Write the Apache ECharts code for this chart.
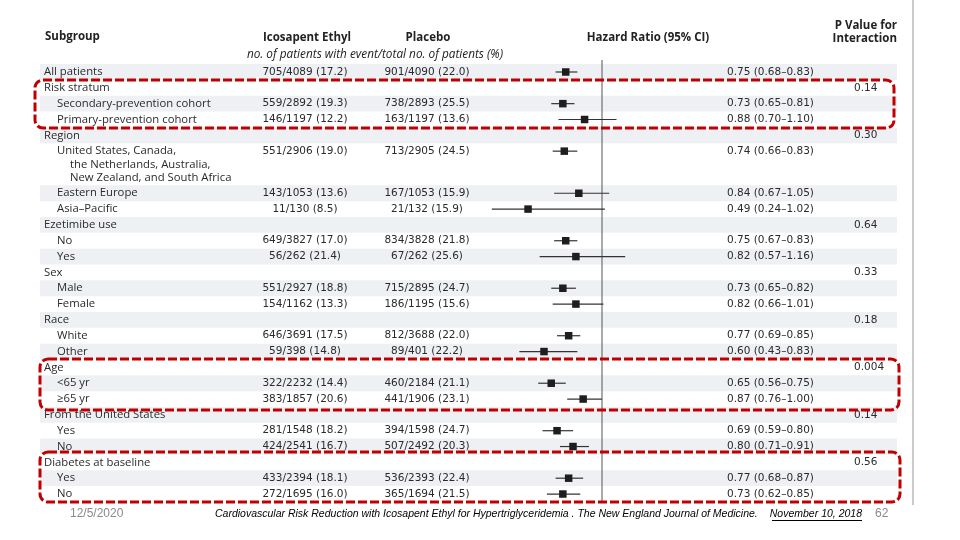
<!DOCTYPE html>
<html>
<head>
<meta charset="utf-8">
<script src="https://cdn.jsdelivr.net/npm/echarts@6/dist/echarts.min.js"></script>
<style>html,body{margin:0;padding:0;background:#fff}#c{width:960px;height:540px}</style>
</head>
<body>
<div id="c"></div>
<script>
// ---------- DATA ----------
const subgroups = ['All patients','Risk stratum','Secondary-prevention cohort','Primary-prevention cohort',
  'Region','United States, Canada,\nthe Netherlands, Australia,\nNew Zealand, and South Africa','Eastern Europe','Asia\u2013Pacific',
  'Ezetimibe use','No','Yes','Sex','Male','Female','Race','White','Other',
  'Age','<65 yr','\u226565 yr','From the United States','Yes','No','Diabetes at baseline','Yes','No'];
const levels = [0,0,1,1, 0,1,1,1, 0,1,1, 0,1,1, 0,1,1, 0,1,1, 0,1,1, 0,1,1];
const icosapent = ['705/4089 (17.2)','','559/2892 (19.3)','146/1197 (12.2)',
  '','551/2906 (19.0)','143/1053 (13.6)','11/130 (8.5)',
  '','649/3827 (17.0)','56/262 (21.4)','','551/2927 (18.8)','154/1162 (13.3)','','646/3691 (17.5)','59/398 (14.8)',
  '','322/2232 (14.4)','383/1857 (20.6)','','281/1548 (18.2)','424/2541 (16.7)','','433/2394 (18.1)','272/1695 (16.0)'];
const placebo = ['901/4090 (22.0)','','738/2893 (25.5)','163/1197 (13.6)',
  '','713/2905 (24.5)','167/1053 (15.9)','21/132 (15.9)',
  '','834/3828 (21.8)','67/262 (25.6)','','715/2895 (24.7)','186/1195 (15.6)','','812/3688 (22.0)','89/401 (22.2)',
  '','460/2184 (21.1)','441/1906 (23.1)','','394/1598 (24.7)','507/2492 (20.3)','','536/2393 (22.4)','365/1694 (21.5)'];
const hazardRatio = [0.75,null,0.73,0.88, null,0.74,0.84,0.49, null,0.75,0.82, null,0.73,0.82, null,0.77,0.60,
  null,0.65,0.87, null,0.69,0.80, null,0.77,0.73];
const ciLow = [0.68,null,0.65,0.70, null,0.66,0.67,0.24, null,0.67,0.57, null,0.65,0.66, null,0.69,0.43,
  null,0.56,0.76, null,0.59,0.71, null,0.68,0.62];
const ciHigh = [0.83,null,0.81,1.10, null,0.83,1.05,1.02, null,0.83,1.16, null,0.82,1.01, null,0.85,0.83,
  null,0.75,1.00, null,0.80,0.91, null,0.87,0.85];
const pInteraction = ['','0.14','','', '0.30','','','', '0.64','','', '0.33','','', '0.18','','',
  '0.004','','', '0.14','','', '0.56','',''];

// ---------- LAYOUT ----------
const ROW_PX = 15.83, Y0 = 72, WRAP = 0.83;
const rowPos = [];
{ let p = 0; subgroups.forEach((s,i)=>{ rowPos.push(p); p += 1 + (s.split('\n').length-1)*WRAP; }); }
const yMin = -Y0/ROW_PX, yMax = (540-Y0)/ROW_PX;
const FONT = '"Open Sans", sans-serif';
const NUMFONT = '10.5px "DejaVu Sans", sans-serif';
const LABFONT = '11.3px "Open Sans", sans-serif';
const TXT = '#2a2a2a';

const chart = echarts.init(document.getElementById('c'), null, {renderer:'canvas'});

const bandData = rowPos.map((p,i)=>[i,p]).filter(d=>d[0]%2===0);
const tableData = rowPos.map((p,i)=>[i,p]);
const forestData = [];
hazardRatio.forEach((h,i)=>{ if(h!=null) forestData.push([h, ciLow[i], ciHigh[i], rowPos[i]]); });

function fmt(v){ return v.toFixed(2); }

const option = {
  animation:false,
  grid:[
    {left:0,right:0,top:0,bottom:0},
    {left:486,width:174,top:0,bottom:0}
  ],
  xAxis:[
    {type:'value',gridIndex:0,min:0,max:960,show:false},
    {type:'value',gridIndex:1,min:0.2,max:1.4,show:false}
  ],
  yAxis:[
    {type:'value',gridIndex:0,min:yMin,max:yMax,inverse:true,show:false},
    {type:'value',gridIndex:1,min:yMin,max:yMax,inverse:true,show:false}
  ],
  series:[
    { // alternating bands
      type:'custom', xAxisIndex:0, yAxisIndex:0, data:bandData, silent:true, z:1,
      renderItem:(params, api)=>{
        const p = api.value(1);
        const a = api.coord([40, p-0.5]), b = api.coord([897, p+0.5]);
        return {type:'rect', shape:{x:a[0],y:a[1],width:b[0]-a[0],height:b[1]-a[1]}, style:{fill:'#eef0f3'}};
      }
    },
    { // table text
      type:'custom', xAxisIndex:0, yAxisIndex:0, data:tableData, silent:true, z:3,
      renderItem:(params, api)=>{
        const i = api.value(0), p = api.value(1);
        const c = api.coord([0,p]); const y = c[1];
        const children = [];
        const lines = subgroups[i].split('\n');
        const baseX = levels[i]===0 ? 44 : 57;
        lines.forEach((ln,k)=>{
          children.push({type:'text', style:{text:ln, x: baseX + (k>0?13:0), y: y + k*WRAP*ROW_PX,
            textVerticalAlign:'middle', font:LABFONT, fill:TXT}});
        });
        if(icosapent[i]) children.push({type:'text', style:{text:icosapent[i], x:305, y:y, textAlign:'center', textVerticalAlign:'middle', font:NUMFONT, fill:TXT}});
        if(placebo[i]) children.push({type:'text', style:{text:placebo[i], x:427, y:y, textAlign:'center', textVerticalAlign:'middle', font:NUMFONT, fill:TXT}});
        if(hazardRatio[i]!=null) children.push({type:'text', style:{text:fmt(hazardRatio[i])+' ('+fmt(ciLow[i])+'\u2013'+fmt(ciHigh[i])+')', x:727, y:y, textVerticalAlign:'middle', font:NUMFONT, fill:TXT}});
        if(pInteraction[i]) children.push({type:'text', style:{text:pInteraction[i], x:854, y:y, textVerticalAlign:'middle', font:NUMFONT, fill:TXT}});
        return {type:'group', children};
      }
    },
    { // reference line at HR = 1
      type:'line', xAxisIndex:1, yAxisIndex:1, data:[[1,-0.76],[1,27.23]], showSymbol:false, silent:true, z:2,
      lineStyle:{color:'#555',width:1}
    },
    { // CI + squares
      type:'custom', xAxisIndex:1, yAxisIndex:1, data:forestData, silent:true, z:4, clip:false,
      renderItem:(params, api)=>{
        const p = api.value(3);
        const m = api.coord([api.value(0),p]), l = api.coord([api.value(1),p]), h = api.coord([api.value(2),p]);
        const s = 7.5;
        return {type:'group', children:[
          {type:'line', shape:{x1:l[0],y1:l[1],x2:h[0],y2:h[1]}, style:{stroke:'#333',lineWidth:1.2}},
          {type:'rect', shape:{x:m[0]-s/2,y:m[1]-s/2,width:s,height:s}, style:{fill:'#1e1e1e'}}
        ]};
      }
    }
  ],
  graphic:[
    {type:'text', left:45, top:31, style:{text:'Subgroup', font:'bold 11.5px '+FONT, fill:'#222'}},
    {type:'text', style:{text:'Icosapent Ethyl', x:307, y:38, textAlign:'center', textVerticalAlign:'middle', font:'bold 11.5px '+FONT, fill:'#222'}},
    {type:'text', style:{text:'Placebo', x:428, y:38, textAlign:'center', textVerticalAlign:'middle', font:'bold 11.5px '+FONT, fill:'#222'}},
    {type:'text', style:{text:'no. of patients with event/total no. of patients (%)', x:375, y:55, textAlign:'center', textVerticalAlign:'middle', font:'italic 11.8px '+FONT, fill:'#222'}},
    {type:'text', style:{text:'Hazard Ratio (95% CI)', x:648, y:38, textAlign:'center', textVerticalAlign:'middle', font:'bold 11.5px '+FONT, fill:'#222'}},
    {type:'text', style:{text:'P Value for', x:897, y:25.5, textAlign:'right', textVerticalAlign:'middle', font:'bold 11.5px '+FONT, fill:'#222'}},
    {type:'text', style:{text:'Interaction', x:897, y:38.5, textAlign:'right', textVerticalAlign:'middle', font:'bold 11.5px '+FONT, fill:'#222'}},
    // annotation boxes
    {type:'rect', shape:{x:35,y:80,width:859,height:48,r:8}, style:{fill:'none',stroke:'#c00000',lineWidth:3,lineDash:[9,3]}, z:10},
    {type:'rect', shape:{x:40,y:359,width:859,height:51,r:8}, style:{fill:'none',stroke:'#c00000',lineWidth:3,lineDash:[9,3]}, z:10},
    {type:'rect', shape:{x:40,y:452,width:860,height:50,r:8}, style:{fill:'none',stroke:'#c00000',lineWidth:3,lineDash:[9,3]}, z:10},
    // slide frame line
    {type:'line', shape:{x1:913,y1:0,x2:913,y2:505}, style:{stroke:'#999',lineWidth:1}},
    // footer
    {type:'text', style:{text:'12/5/2020', x:70, y:514, textVerticalAlign:'middle', font:'12px "Liberation Sans", sans-serif', fill:'#8a8a8a'}},
    {type:'text', style:{text:'Cardiovascular Risk Reduction with Icosapent Ethyl for Hypertriglyceridemia . The New England Journal of Medicine.', x:215, y:514, textVerticalAlign:'middle', font:'italic 10.5px "Liberation Sans", sans-serif', fill:'#000'}},
    {type:'text', style:{text:'November 10, 2018', x:862, y:514, textAlign:'right', textVerticalAlign:'middle', font:'italic 10.5px "Liberation Sans", sans-serif', fill:'#000'}},
    {type:'line', shape:{x1:772,y1:520.5,x2:862,y2:520.5}, style:{stroke:'#000',lineWidth:1}},
    {type:'text', style:{text:'62', x:875, y:514, textVerticalAlign:'middle', font:'12px "Liberation Sans", sans-serif', fill:'#8a8a8a'}}
  ]
};
chart.setOption(option);
</script>
</body>
</html>
